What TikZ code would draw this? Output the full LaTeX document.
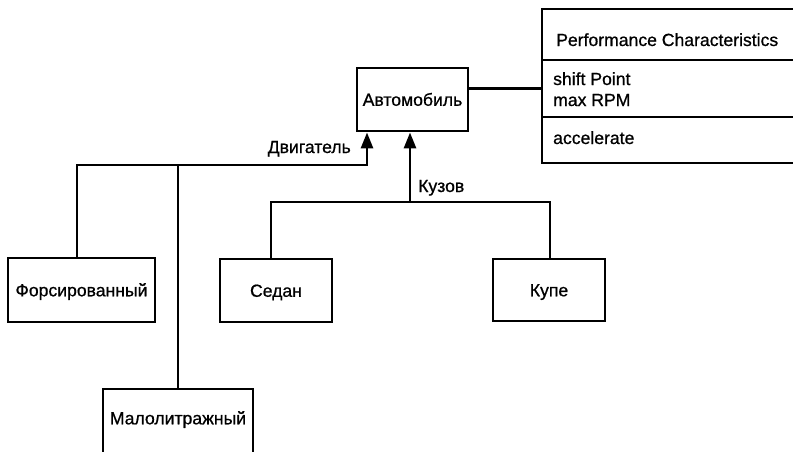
\documentclass[tikz,border=0pt]{standalone}
\usepackage{fontspec}
\setmainfont{Liberation Sans}[FakeBold=0.8]
\usetikzlibrary{arrows.meta,calc}
\begin{document}
\begin{tikzpicture}[x=1pt,y=-1pt,
  every node/.style={font=\fontsize{17.6pt}{21pt}\selectfont},
  box/.style={draw,line width=2.9pt,rectangle,inner sep=0pt,text height=12.6pt,text depth=0pt},
  ln/.style={line width=2.9pt},
  arr/.style={line width=2.9pt,-{Triangle[width=12pt,length=16pt]}},
  txt/.style={inner sep=0pt}
]
\fill[white] (0,0) rectangle (793,451);
\useasboundingbox (0,0) rectangle (793,451);

% boxes
\node[box,minimum width=111pt,minimum height=63pt] (auto) at (412.5,99.5) {Автомобиль};
\node[box,minimum width=147pt,minimum height=64pt] (forc) at (81.5,290) {Форсированный};
\node[box,minimum width=150pt,minimum height=64pt,text depth=6pt] (mal) at (178,421) {Малолитражный};
\node[box,minimum width=112pt,minimum height=63pt] (sedan) at (276,290.5) {Седан};
\node[box,minimum width=112pt,minimum height=62pt] (kupe) at (549,290) {Купе};

% class box (right edge beyond the page)
\node[box,minimum width=260pt,minimum height=51pt] (pch) at (672,34.5) {};
\node[box,minimum width=260pt,minimum height=57pt] (pca) at (672,88.5) {};
\node[box,minimum width=260pt,minimum height=46pt] (pcm) at (672,140) {};
\node[txt,anchor=base west] (pctitle) at (556,46) {Performance Characteristics};
\node[txt,anchor=base west] (pcat1) at (553,85) {shift Point};
\node[txt,anchor=base west] (pcat2) at (553,106) {max RPM};
\node[txt,anchor=base west] (pcop) at (553,144) {accelerate};

% junctions
\coordinate (dvj) at (367,165);
\coordinate (kzj) at (410,202);

% connectors
\draw[ln] (pca.west -| auto.east) -- (pca.west);
\draw[arr] ([xshift=-4.5pt]forc.north) |- (dvj) -- (dvj |- auto.south);
\draw[ln] (mal.north) -- (mal.north |- dvj);
\draw[ln] ([xshift=-5pt]sedan.north) -- ([xshift=-5pt]sedan.north |- kzj) -- ([xshift=1pt]kupe.north |- kzj) -- ([xshift=1pt]kupe.north);
\draw[arr] (kzj) -- (kzj |- auto.south);

% labels
\node[txt,anchor=base east] (ldv) at (351,153) {Двигатель};
\node[txt,anchor=base west] (lkz) at (418,192) {Кузов};
\end{tikzpicture}
\end{document}
